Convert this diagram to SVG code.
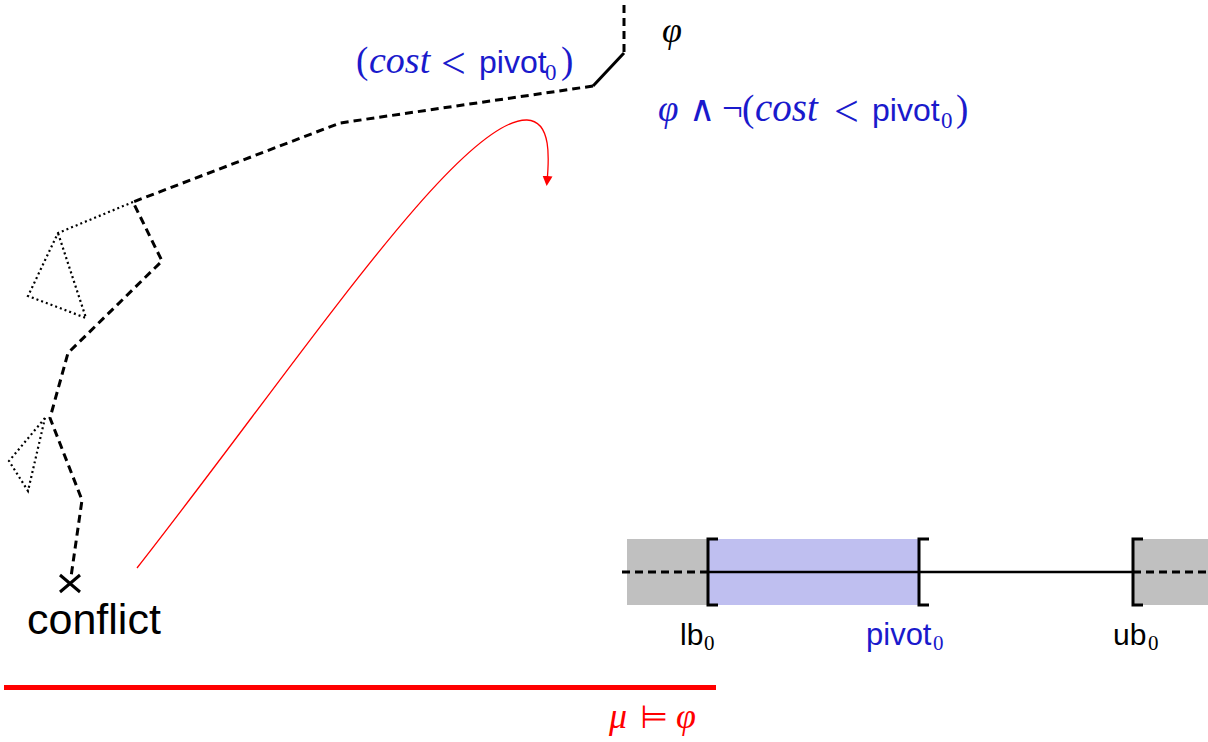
<svg xmlns="http://www.w3.org/2000/svg" width="1208" height="742" viewBox="0 0 1208 742">
<style>
.dash{fill:none;stroke:#000;stroke-width:3;stroke-dasharray:8 5}
.dot{fill:none;stroke:#000;stroke-width:2.2;stroke-dasharray:2 3}
.sol{fill:none;stroke:#000;stroke-width:3}
.br{fill:none;stroke:#000;stroke-width:3}
.serif{font-family:"Liberation Serif","DejaVu Serif",serif}
.it{font-family:"Liberation Serif","DejaVu Serif",serif;font-style:italic}
.sans{font-family:"Liberation Sans","DejaVu Sans",sans-serif}
.blue{fill:#1a1acc}
.red{fill:#f00}
</style>
<defs>
<marker id="ah" viewBox="0 0 10 10" refX="6" refY="5" markerWidth="10" markerHeight="10" markerUnits="userSpaceOnUse" orient="auto">
<path d="M0,0 L10,5 L0,10 z" fill="#f00"/>
</marker>
</defs>
<rect width="1208" height="742" fill="#fff"/>
<g id="trace">
<polyline class="dash" points="624,5 624,53"/>
<polyline class="sol" points="624,53 593,86"/>
<polyline class="dash" points="593,86 340,123 133,202 162,261 68,353 50,418 82,500 71,577"/>
<polyline class="dot" points="133,202 58,233 28,296 86,318 58,233"/>
<polyline class="dot" points="45,418 9,461 28,491 45,418"/>
</g>
<g id="conflict">
<path d="M60,575 L80,592 M80,575 L60,592" class="sol" stroke-width="2.5"/>
<text x="27" y="634" class="sans" font-size="43">conflict</text>
</g>
<g id="phi-label">
<text x="662" y="42" class="it" font-size="36">φ</text>
</g>
<g id="cost-label">
<text y="73" font-size="37" class="blue">
<tspan x="356" class="serif">(</tspan><tspan x="369" class="it" font-size="38">cost</tspan><tspan x="441" dy="5" class="serif" font-size="44">&lt;</tspan><tspan x="479" dy="-5" class="sans" font-size="32">pivot</tspan><tspan x="545" dy="7" class="serif" font-size="23">0</tspan><tspan x="561" dy="-7" class="serif">)</tspan>
</text>
</g>
<g id="neg-label">
<text y="121" font-size="37" class="blue">
<tspan x="658" class="it">φ</tspan><tspan x="689" font-family="DejaVu Serif,serif" font-size="36">∧</tspan><tspan x="722" class="serif">¬</tspan><tspan x="742" class="serif">(</tspan><tspan x="755" class="it" font-size="39">cost</tspan><tspan x="834" dy="5" class="serif" font-size="44">&lt;</tspan><tspan x="872" dy="-5" class="sans" font-size="32">pivot</tspan><tspan x="941" dy="7" class="serif" font-size="23">0</tspan><tspan x="956" dy="-7" class="serif">)</tspan>
</text>
</g>
<g id="connectors">
<path d="M137,568 C300,360 460,118 527,120 C552,121 549,160 547,182" fill="none" stroke="#f00" stroke-width="1.3" marker-end="url(#ah)"/>
</g>
<g id="model">
<line x1="4" y1="687.5" x2="716" y2="687.5" stroke="#f00" stroke-width="5"/>
<text y="728" font-size="36" class="red"><tspan x="609" class="it">μ</tspan><tspan x="640" font-family="DejaVu Sans,sans-serif" font-size="32">⊨</tspan><tspan x="676" class="it">φ</tspan></text>
</g>
<g id="interval">
<rect x="627" y="539" width="81" height="66" fill="#c0c0c0"/>
<rect x="708" y="539" width="210" height="66" fill="#bfbff0"/>
<rect x="1133" y="539" width="75" height="66" fill="#c0c0c0"/>
<line x1="622" y1="572" x2="708" y2="572" class="dash" stroke-width="2.5"/>
<line x1="708" y1="572" x2="1133" y2="572" stroke="#000" stroke-width="2.5"/>
<line x1="1133" y1="572" x2="1208" y2="572" class="dash" stroke-width="2.5"/>
<path class="br" d="M718,539 H708 V605 H718"/>
<path class="br" d="M929,539 H919 V605 H929"/>
<path class="br" d="M1143,539 H1133 V605 H1143"/>
<text y="645" font-size="30"><tspan x="680" class="sans">lb</tspan><tspan x="704" dy="5" class="serif" font-size="21">0</tspan></text>
<text y="645" font-size="31" class="blue"><tspan x="866" class="sans">pivot</tspan><tspan x="933" dy="5" class="serif" font-size="21">0</tspan></text>
<text y="645" font-size="30"><tspan x="1113" class="sans">ub</tspan><tspan x="1148" dy="5" class="serif" font-size="21">0</tspan></text>
</g>
</svg>
